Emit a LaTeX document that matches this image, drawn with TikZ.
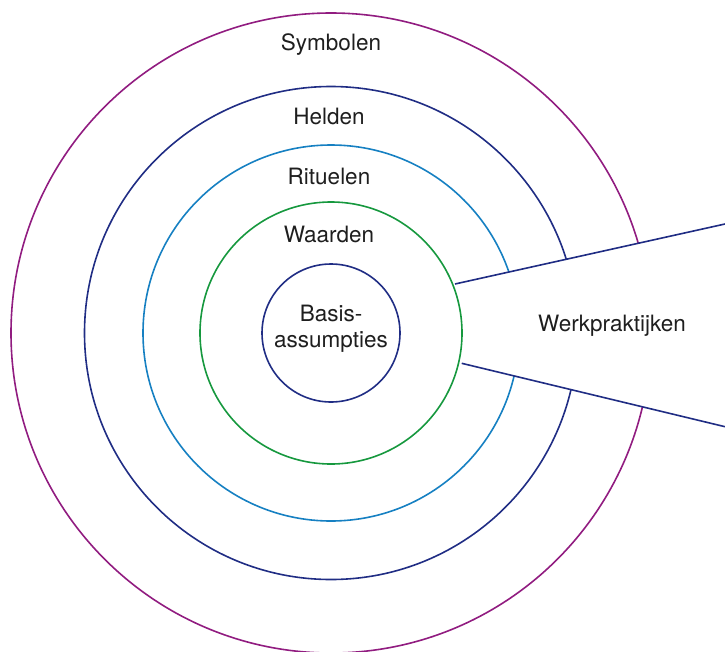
\documentclass[tikz,border=0pt]{standalone}
\usepackage{fontspec}
\setmainfont{TeX Gyre Heros}
\usetikzlibrary{calc}
\definecolor{cpurple}{RGB}{145,28,128}
\definecolor{cnavy}{RGB}{32,45,132}
\definecolor{cblue}{RGB}{22,128,194}
\definecolor{cgreen}{RGB}{22,152,62}
\definecolor{ctext}{RGB}{30,30,30}
\begin{document}
\begin{tikzpicture}[x=1pt,y=-1pt,
  ring/.style={line width=1.6pt},
  ringnode/.style={circle,draw,line width=1.6pt,inner sep=0pt,outer sep=0pt},
  lbl/.style={font=\fontsize{22.5}{26}\selectfont,text=ctext,inner sep=0pt}]
\useasboundingbox (0,0) rectangle (725,651);
\coordinate (c) at (331,333);
\coordinate (u1) at (455,284);
\coordinate (u2) at (725,224);
\coordinate (l1) at (461.7,363.3);
\coordinate (l2) at (725,426.7);
% inner full circles
\node[ringnode,draw=cnavy,minimum size=138pt] (core) at (c) {};
\node[ringnode,draw=cgreen,minimum size=262pt] (waarden) at (c) {};
% outer rings, cut by the wedge
\begin{scope}
  \clip (-20,-20) -- (760,-20) -- ($(u1)!1.15!(u2)$) -- (u1) -- (l1) -- ($(l1)!1.15!(l2)$) -- (760,680) -- (-20,680) -- cycle;
  \draw[ring,cblue] (c) circle[radius=188];
  \draw[ring,cnavy] (c) circle[radius=246.5];
  \draw[ring,cpurple] (c) circle[radius=320];
\end{scope}
% wedge lines
\draw[ring,cnavy] (u1) -- (u2);
\draw[ring,cnavy] (l1) -- (l2);
% labels
\node[lbl] (symbolen) at (331,45) {Symbolen};
\node[lbl] (helden) at (329,116) {Helden};
\node[lbl] (rituelen) at (329,176) {Rituelen};
\node[lbl] (waardenlbl) at (329,234) {Waarden};
\node[lbl,align=center] (basis) at (331,329) {Basis-\\assumpties};
\node[lbl] (werk) at (612,326) {Werkpraktijken};
\end{tikzpicture}
\end{document}
